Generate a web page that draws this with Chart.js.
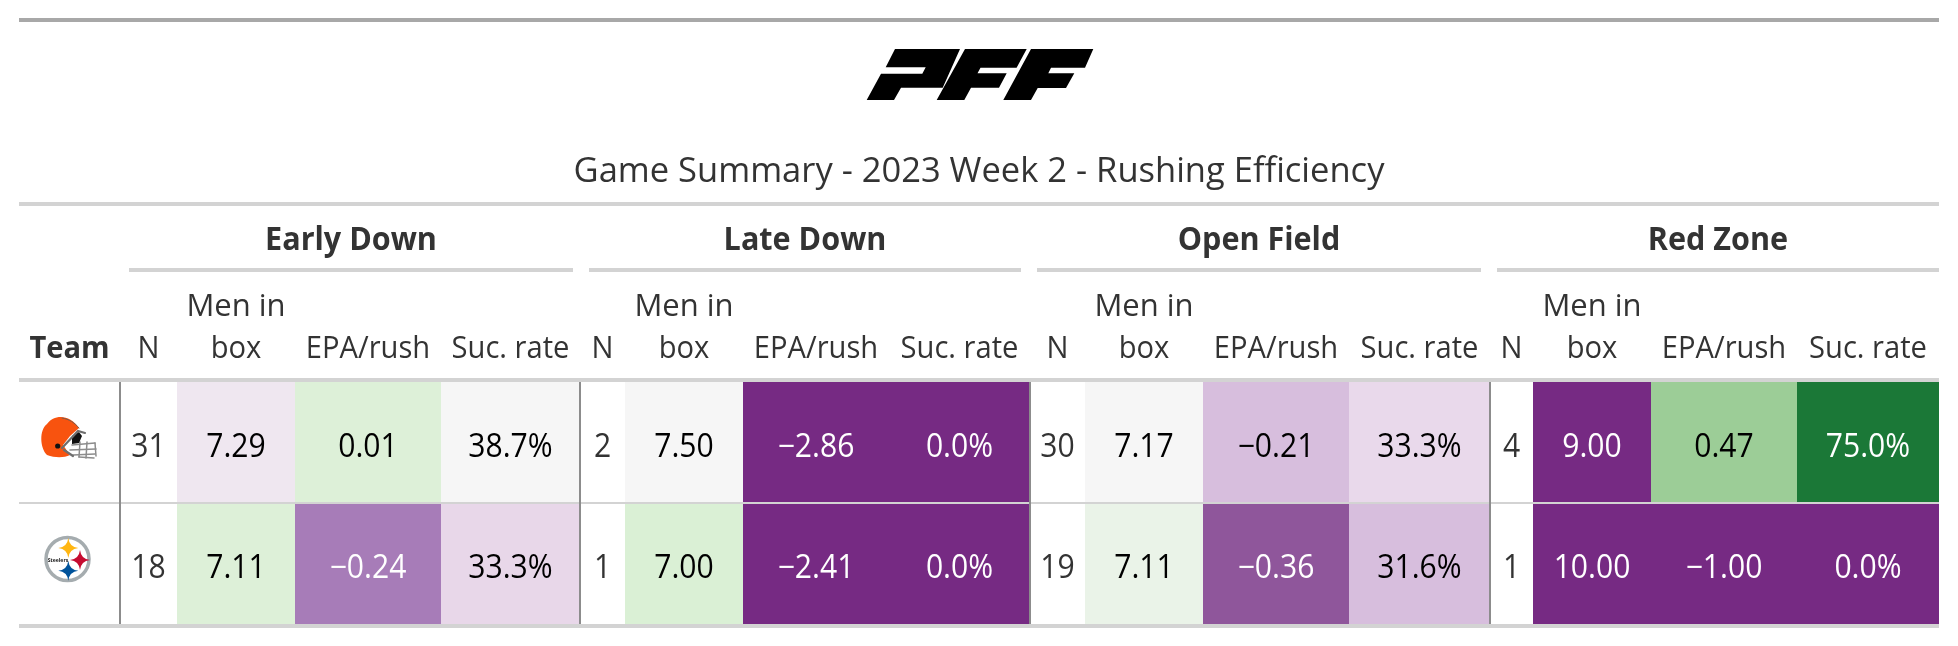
<!DOCTYPE html>
<html lang="en">
<head>
<meta charset="UTF-8">
<title>Game Summary - 2023 Week 2 - Rushing Efficiency</title>
<style>
    body { margin: 0; background: #fff; overflow: hidden; }
    canvas { display: block; }
</style>
</head>
<body>
<canvas id="table" width="1958" height="646"></canvas>
<script src="https://cdn.jsdelivr.net/npm/chart.js"></script>
<script>
// data, one inner list per team row, four situations in each
const teams = ['Browns', 'Steelers'];
const groups = ['Early Down', 'Late Down', 'Open Field', 'Red Zone'];
const measures = ['N', 'Men in box', 'EPA/rush', 'Suc. rate'];
const title = 'Game Summary - 2023 Week 2 - Rushing Efficiency';

const nValues = [[31, 2, 30, 4], [18, 1, 19, 1]];
const menValues = [[7.29, 7.50, 7.17, 9.00], [7.11, 7.00, 7.11, 10.00]];
const epaValues = [[0.01, -2.86, -0.21, 0.47], [-0.24, -2.41, -0.36, -1.00]];
const sucValues = [[38.7, 0.0, 33.3, 75.0], [33.3, 0.0, 31.6, 0.0]];

// cell fills
const menColors = [['#efe7f0', '#f6f6f6', '#f6f6f6', '#762a83'], ['#ddf0d8', '#daf0d5', '#eaf3e8', '#762a83']];
const epaColors = [['#ddf0d8', '#762a83', '#d7bedd', '#9ccd97'], ['#a77cb8', '#762a83', '#8f569b', '#762a83']];
const sucColors = [['#f6f6f6', '#762a83', '#e9d9eb', '#1b7837'], ['#e8d7e9', '#762a83', '#d7bedd', '#762a83']];

// layout: column widths in px, team column first
const teamWidth = 101;
const groupWidths = [[57, 118, 146, 139], [45, 118, 146, 141], [55, 118, 146, 141], [43, 118, 146, 142]];
const spannerRules = [[129, 573], [589, 1021], [1037, 1481], [1497, 1939]];
const LEFT = 19, RIGHT = 1939, TOP = 382, BOTTOM = 624;

const FONT = '"Open Sans", sans-serif';
const SQUEEZE = 0.94;

function fmt(v, digits, suffix) {
    const s = Math.abs(v).toFixed(digits) + (suffix || '');
    return v < 0 ? '\u2212' + s : s;
}

function textColor(hex) {
    const r = parseInt(hex.slice(1, 3), 16), g = parseInt(hex.slice(3, 5), 16), b = parseInt(hex.slice(5, 7), 16);
    return (0.299 * r + 0.587 * g + 0.114 * b) / 255 < 0.62 ? '#ffffff' : '#000000';
}

// one stacked dataset per table column
const datasets = [{ data: teams.map(() => teamWidth), backgroundColor: '#ffffff', cellText: null }];
groups.forEach((g, i) => {
    const w = groupWidths[i];
    datasets.push({ data: teams.map(() => w[0]), backgroundColor: '#ffffff', cellText: nValues.map(r => String(r[i])), ink: '#333333' });
    datasets.push({ data: teams.map(() => w[1]), backgroundColor: menColors.map(r => r[i]), cellText: menValues.map(r => fmt(r[i], 2)) });
    datasets.push({ data: teams.map(() => w[2]), backgroundColor: epaColors.map(r => r[i]), cellText: epaValues.map(r => fmt(r[i], 2)) });
    datasets.push({ data: teams.map(() => w[3]), backgroundColor: sucColors.map(r => r[i]), cellText: sucValues.map(r => fmt(r[i], 1, '%')) });
});

function put(ctx, text, x, y, font, color, squeeze) {
    ctx.save();
    ctx.font = font;
    ctx.fillStyle = color;
    ctx.textAlign = 'center';
    ctx.textBaseline = 'alphabetic';
    ctx.translate(x, y);
    ctx.scale(squeeze || SQUEEZE, 1);
    ctx.fillText(text, 0, 0);
    ctx.restore();
}

function poly(ctx, pts, color) {
    ctx.fillStyle = color;
    ctx.beginPath();
    pts.forEach((p, i) => i ? ctx.lineTo(p[0], p[1]) : ctx.moveTo(p[0], p[1]));
    ctx.closePath();
    ctx.fill();
}

function drawPff(ctx) {
    poly(ctx, [[895, 49], [960, 49], [942.7, 87.7], [901, 87.7], [894, 100], [866.7, 100], [881, 73.7], [922.3, 73.7], [925.7, 67.3], [885.7, 67.3]], '#000');
    poly(ctx, [[965, 49], [1026.7, 49], [1016.6, 67.7], [980.5, 67.7], [977.5, 73.3], [1006.7, 73.3], [999, 87.7], [971, 87.7], [964.3, 100], [936.7, 100]], '#000');
    poly(ctx, [[1031, 49], [1093.3, 49], [1085, 67.7], [1051, 67.7], [1048.3, 73.3], [1074.3, 73.3], [1066, 88], [1037.7, 88], [1031, 100], [1003.3, 100]], '#000');
}

function drawHelmet(ctx) {
    ctx.save();
    ctx.lineCap = 'round';
    // face mask
    ctx.strokeStyle = '#8c8c8c';
    ctx.lineWidth = 1.5;
    [[[72, 445], [95, 443]], [[70, 450], [96, 449]], [[73, 455], [95, 454]], [[80, 442], [79, 457]], [[87, 442], [86, 458]], [[95, 443], [96, 456]], [[79, 457], [94, 458]]].forEach(l => {
        ctx.beginPath();
        ctx.moveTo(l[0][0], l[0][1]);
        ctx.lineTo(l[1][0], l[1][1]);
        ctx.stroke();
    });
    // opening behind the mask
    poly(ctx, [[72, 436], [79, 432], [82, 436], [79, 443], [72, 444]], '#111');
    // shell
    ctx.fillStyle = '#f8530f';
    ctx.beginPath();
    ctx.moveTo(47, 455);
    ctx.bezierCurveTo(40, 448, 39, 430, 47, 424);
    ctx.bezierCurveTo(54, 414, 70, 414, 79, 428);
    ctx.lineTo(70, 436);
    ctx.lineTo(63, 445);
    ctx.lineTo(70, 455);
    ctx.bezierCurveTo(64, 458, 55, 458, 47, 455);
    ctx.closePath();
    ctx.fill();
    // rim and bracket
    ctx.strokeStyle = '#6e6e6e';
    ctx.lineWidth = 2.2;
    ctx.beginPath();
    ctx.moveTo(62, 448);
    ctx.lineTo(78, 431);
    ctx.lineTo(85, 433);
    ctx.stroke();
    ctx.beginPath();
    ctx.moveTo(64, 450);
    ctx.lineTo(73, 456);
    ctx.stroke();
    ctx.strokeStyle = '#7a5a4a';
    ctx.lineWidth = 1;
    ctx.beginPath();
    ctx.moveTo(62, 418);
    ctx.bezierCurveTo(69, 419, 75, 423, 79, 428);
    ctx.stroke();
    ctx.fillStyle = '#111';
    ctx.beginPath();
    ctx.arc(57.7, 446, 2.6, 0, Math.PI * 2);
    ctx.fill();
    ctx.restore();
}

function star(ctx, cx, cy, r, color) {
    const k = 0.1 * r;
    ctx.fillStyle = color;
    ctx.beginPath();
    ctx.moveTo(cx, cy - r);
    ctx.quadraticCurveTo(cx + k, cy - k, cx + r, cy);
    ctx.quadraticCurveTo(cx + k, cy + k, cx, cy + r);
    ctx.quadraticCurveTo(cx - k, cy + k, cx - r, cy);
    ctx.quadraticCurveTo(cx - k, cy - k, cx, cy - r);
    ctx.fill();
}

function drawSteelers(ctx, cx, cy) {
    ctx.fillStyle = '#fff';
    ctx.strokeStyle = '#a5acaf';
    ctx.lineWidth = 3.5;
    ctx.beginPath();
    ctx.arc(cx, cy, 21.5, 0, Math.PI * 2);
    ctx.fill();
    ctx.stroke();
    star(ctx, cx + 0.8, cy - 11, 10, '#ffb612');
    star(ctx, cx + 12.5, cy + 1, 10, '#c60c30');
    star(ctx, cx + 0.8, cy + 11.7, 10, '#00539b');
    put(ctx, 'Steelers', cx - 9.5, cy + 2.5, 'bold 6px ' + FONT, '#222', 0.85);
}

const tablePlugin = {
    id: 'tableChrome',
    afterDatasetsDraw(chart) {
        const ctx = chart.ctx;
        const x = chart.scales.x, y = chart.scales.y;
        const hline = (x0, x1, top, h, color) => {
            ctx.fillStyle = color;
            ctx.fillRect(x0, top, x1 - x0, h);
        };
        const head = '31px ' + FONT;

        // rules
        hline(LEFT, RIGHT, 18, 4, '#a8a8a8');
        hline(LEFT, RIGHT, 202, 4, '#d3d3d3');
        hline(LEFT, RIGHT, 378, 4, '#d3d3d3');
        hline(LEFT, RIGHT, 502, 2, '#d3d3d3');
        hline(LEFT, RIGHT, 624, 4, '#d3d3d3');

        drawPff(ctx);
        put(ctx, title, 979, 182, '35px ' + FONT, '#333333', 0.986);

        // column headers
        put(ctx, 'Team', x.getPixelForValue(teamWidth / 2), 358, 'bold 30px ' + FONT, '#333333', 0.97);
        let edge = teamWidth;
        groups.forEach((g, i) => {
            const w = groupWidths[i];
            const start = edge;
            let c = edge;
            const rule = spannerRules[i];
            put(ctx, g, (rule[0] + rule[1]) / 2, 250, 'bold 32px ' + FONT, '#333333', 0.955);
            hline(rule[0], rule[1], 268, 4, '#d3d3d3');
            measures.forEach((m, j) => {
                const cx = x.getPixelForValue(c + w[j] / 2);
                if (m === 'Men in box') {
                    put(ctx, 'Men in', cx, 316, head, '#333333', 1.0);
                    put(ctx, 'box', cx, 358, head, '#333333');
                } else {
                    put(ctx, m, cx, 358, head, '#333333');
                }
                c += w[j];
            });
            // vertical divider left of each group
            ctx.fillStyle = '#8c8c8c';
            ctx.fillRect(x.getPixelForValue(start) - 1, TOP, 2, BOTTOM - TOP);
            edge = c;
        });

        // cell values
        chart.data.datasets.forEach((ds, d) => {
            if (!ds.cellText) return;
            chart.getDatasetMeta(d).data.forEach((bar, r) => {
                const fill = Array.isArray(ds.backgroundColor) ? ds.backgroundColor[r] : ds.backgroundColor;
                const ink = ds.ink || textColor(fill);
                const c = bar.getCenterPoint();
                put(ctx, ds.cellText[r], c.x, y.getPixelForValue(r) + 14, '32px ' + FONT, ink);
            });
        });

        // team logos
        drawHelmet(ctx);
        drawSteelers(ctx, 67.5, 559);
    }
};

new Chart(document.getElementById('table'), {
    type: 'bar',
    data: { labels: teams, datasets: datasets },
    plugins: [tablePlugin],
    options: {
        indexAxis: 'y',
        responsive: false,
        animation: false,
        layout: { padding: { left: LEFT, right: 1958 - RIGHT, top: TOP, bottom: 646 - BOTTOM } },
        datasets: { bar: { barPercentage: 1, categoryPercentage: 1, borderWidth: 0, inflateAmount: 0 } },
        plugins: { legend: { display: false }, title: { display: false }, tooltip: { enabled: false } },
        scales: {
            x: { display: false, stacked: true, min: 0, max: RIGHT - LEFT },
            y: { display: false, stacked: true }
        }
    }
});
</script>
</body>
</html>
